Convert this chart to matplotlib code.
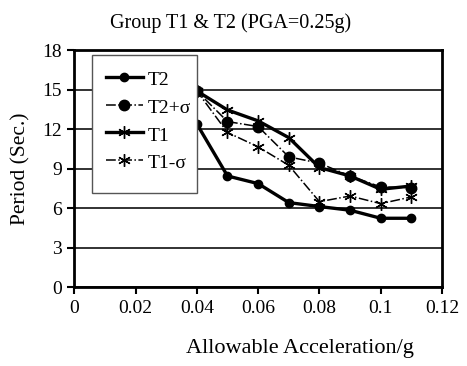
import matplotlib.pyplot as plt
from matplotlib.patches import Rectangle

plt.rcParams['font.family'] = ['Liberation Serif', 'DejaVu Serif']

# allowable acceleration (g)
accel = [0.03, 0.04, 0.05, 0.06, 0.07, 0.08, 0.09, 0.10, 0.11]

# periods (sec.); 0.03 values sit behind the legend
t2 = [14.5, 12.4, 8.45, 7.87, 6.43, 6.13, 5.85, 5.24, 5.24]
t2_sigma = [16.5, 14.9, 12.58, 12.2, 9.9, 9.42, 8.45, 7.62, 7.57]
t1 = [16.8, 14.9, 13.46, 12.63, 11.36, 9.09, 8.45, 7.44, 7.69]
t1_sigma = [16.0, 14.9, 11.75, 10.66, 9.26, 6.5, 6.93, 6.35, 6.86]

xticks = [0, 0.02, 0.04, 0.06, 0.08, 0.1, 0.12]
xtick_labels = ['0', '0.02', '0.04', '0.06', '0.08', '0.1', '0.12']
yticks = [0, 3, 6, 9, 12, 15, 18]

fig = plt.figure(figsize=(4.67, 3.66), dpi=100)
ax = fig.add_axes([0.159, 0.215, 0.7875, 0.648])

star = (6, 2, 0)
ax.plot(accel, t2, color='black', lw=2.4, marker='o', ms=6, label='T2')
ax.plot(accel, t2_sigma, color='black', lw=1.1, ls='-.', marker='o', ms=7.5, label='T2+σ')
ax.plot(accel, t1, color='black', lw=2.4, marker=star, ms=9, mew=1.0, label='T1')
ax.plot(accel, t1_sigma, color='black', lw=1.1, ls='-.', marker=star, ms=9, mew=1.0, label='T1-σ')

ax.set_xlim(0, 0.12)
ax.set_ylim(0, 18)
ax.set_xticks(xticks)
ax.set_xticklabels(xtick_labels)
ax.set_yticks(yticks)
ax.yaxis.grid(True, color='#222222', lw=1.3)
ax.set_axisbelow(True)
ax.tick_params(direction='out', length=5, width=1.5, labelsize=14, pad=4)
for s in ax.spines.values():
    s.set_linewidth(2)

fig.text(0.494, 0.937, 'Group T1 & T2 (PGA=0.25g)', fontsize=14.5, ha='center', va='center')
ax.set_xlabel('Allowable Acceleration/g', fontsize=16)
ax.xaxis.set_label_coords(0.614, -0.22)
ax.set_ylabel('Period (Sec.)', fontsize=15.5, labelpad=8)

# legend box (taller than the entries need, like the original)
box = Rectangle((0.048, 0.397), 0.286, 0.582, transform=ax.transAxes,
                facecolor='white', edgecolor='#555555', lw=1.0, zorder=4.5)
ax.add_patch(box)
leg = ax.legend(loc='upper left', bbox_to_anchor=(0.048, 0.979), fontsize=14,
                frameon=False, handlelength=1.95, handleheight=1.2,
                labelspacing=0.37, borderpad=0.7, handletextpad=0.2, borderaxespad=0)
leg.set_zorder(5)

fig.savefig('out.png', dpi=100)
